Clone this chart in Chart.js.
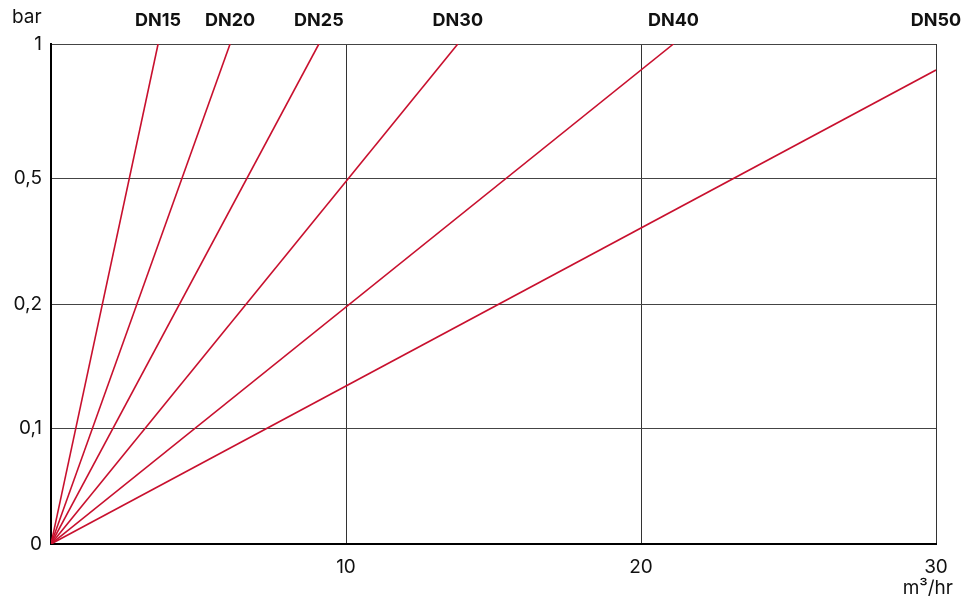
<!DOCTYPE html>
<html>
<head>
<meta charset="utf-8">
<script src="https://cdn.jsdelivr.net/npm/chart.js@4.4.1/dist/chart.umd.min.js"></script>
<style>
    html, body { margin: 0; padding: 0; background: #fff; }
    #wrap { width: 965px; height: 604px; }
</style>
</head>
<body>
<div id="wrap"><canvas id="flowChart"></canvas></div>
<script>
// pipe sizes and where each line leaves the chart (flow m3/hr, pressure scale position)
var sizes = ['DN15', 'DN20', 'DN25', 'DN30', 'DN40', 'DN50'];
var flowEnd = [3.63, 6.07, 9.08, 13.79, 21.1, 30];
var dropEnd = [1, 1, 1, 1, 1, 0.948];

// pressure axis is not linear in the original, ticks sit at these scale positions
var yTickPos = [0, 0.232, 0.48, 0.731, 1];
var yTickLabels = ['0', '0,1', '0,2', '0,5', '1'];
var xTicks = [0, 10, 20, 30];

var lineColor = '#c8102e';
var fontFamily = 'Inter, "Noto Sans", sans-serif';

window.addEventListener("load", function () {
    var datasets = sizes.map(function (name, i) {
        return {
            label: name,
            data: [{ x: 0, y: 0 }, { x: flowEnd[i], y: dropEnd[i] }],
            borderColor: lineColor,
            borderWidth: 1.6,
            pointRadius: 0,
            fill: false,
            tension: 0
        };
    });

    var labelsPlugin = {
        id: 'extraText',
        afterDraw: function (chart) {
            var ctx = chart.ctx;
            var xs = chart.scales.x;
            var area = chart.chartArea;
            ctx.save();
            ctx.fillStyle = '#111';
            ctx.textBaseline = 'middle';
            ctx.textAlign = 'center';
            ctx.font = 'bold 18px ' + fontFamily;
            sizes.forEach(function (name, i) {
                ctx.fillText(name, xs.getPixelForValue(flowEnd[i]), 21);
            });
            ctx.font = '19px ' + fontFamily;
            ctx.textAlign = 'left';
            ctx.fillText('bar', 12, 17);
            ctx.textAlign = 'right';
            ctx.fillText('m³/hr', area.right + 17, 588);
            ctx.restore();
        }
    };

    new Chart(document.getElementById("flowChart"), {
        type: 'line',
        data: { datasets: datasets },
        plugins: [labelsPlugin],
        options: {
            responsive: true,
            maintainAspectRatio: false,
            animation: false,
            layout: { padding: { top: 44, right: 29, left: 0, bottom: 0 } },
            plugins: {
                legend: { display: false },
                tooltip: { enabled: false }
            },
            scales: {
                x: {
                    type: 'linear',
                    min: 0,
                    max: 30,
                    afterBuildTicks: function (scale) {
                        scale.ticks = xTicks.map(function (v) { return { value: v }; });
                    },
                    afterFit: function (scale) { scale.height = 60; },
                    ticks: {
                        padding: 12,
                        color: '#111',
                        font: { family: fontFamily, size: 19 },
                        callback: function (v) { return v === 0 ? '' : String(v); }
                    },
                    grid: { color: '#333', lineWidth: 1, drawTicks: false },
                    border: { color: '#000', width: 2 }
                },
                y: {
                    type: 'linear',
                    min: 0,
                    max: 1,
                    afterBuildTicks: function (scale) {
                        scale.ticks = yTickPos.map(function (v) { return { value: v }; });
                    },
                    afterFit: function (scale) { scale.width = 51; },
                    ticks: {
                        padding: 9,
                        color: '#111',
                        font: { family: fontFamily, size: 19 },
                        callback: function (v) {
                            var i = yTickPos.indexOf(v);
                            return i >= 0 ? yTickLabels[i] : '';
                        }
                    },
                    grid: { color: '#444', lineWidth: 1, drawTicks: false },
                    border: { color: '#000', width: 2 }
                }
            }
        }
    });
}, false);
</script>
</body>
</html>
